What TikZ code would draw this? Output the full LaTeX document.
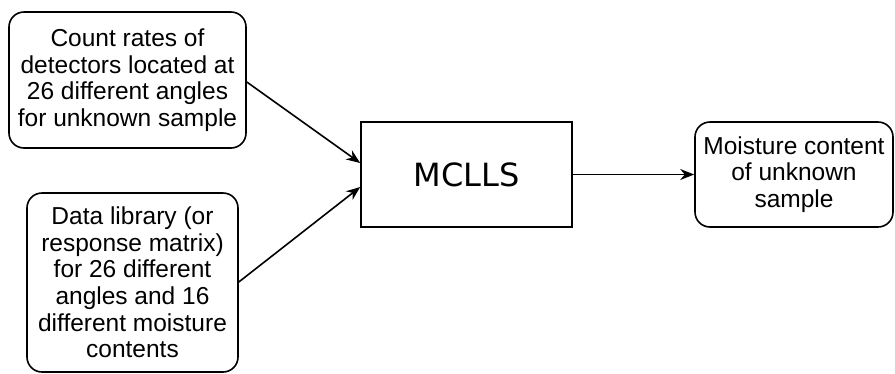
\documentclass[tikz,border=0pt]{standalone}
\usepackage{fontspec}
\setmainfont{Liberation Sans}
\newfontfamily\mcfont{DejaVu Sans}
\usetikzlibrary{arrows.meta}
\begin{document}
\begin{tikzpicture}[x=1pt,y=-1pt,
  rbox/.style={draw, line width=1.6pt, rounded corners=15pt, align=center, inner sep=0pt,
     font=\fontsize{24.5}{26.6}\selectfont},
  sbox/.style={draw, line width=1.6pt, inner sep=0pt},
  conn/.style={line width=1.6pt, -{Stealth[length=14pt,width=11pt]}}]
\useasboundingbox (0,0) rectangle (895,373);
\node[rbox, minimum width=237pt, minimum height=136pt] (count) at (127.5,80)
  {Count rates of\\detectors located at\\26 different angles\\for unknown sample};
\node[rbox, minimum width=211pt, minimum height=179pt] (lib) at (132.5,282.5)
  {Data library (or\\response matrix)\\for 26 different\\angles and 16\\different moisture\\contents};
\node[sbox, minimum width=211pt, minimum height=105pt, font=\mcfont\fontsize{32}{36}\selectfont] (mc) at (466.5,174.5) {MCLLS};
\node[rbox, minimum width=198pt, minimum height=105pt] (out) at (794,174.5)
  {Moisture content\\of unknown\\sample};
\draw[conn] (count.east |- 0,82) -- (mc.west |- 0,163);
\draw[conn] (lib.east |- 0,282) -- (mc.west |- 0,187);
\draw[conn] (mc.east) -- (out.west);
\end{tikzpicture}
\end{document}
